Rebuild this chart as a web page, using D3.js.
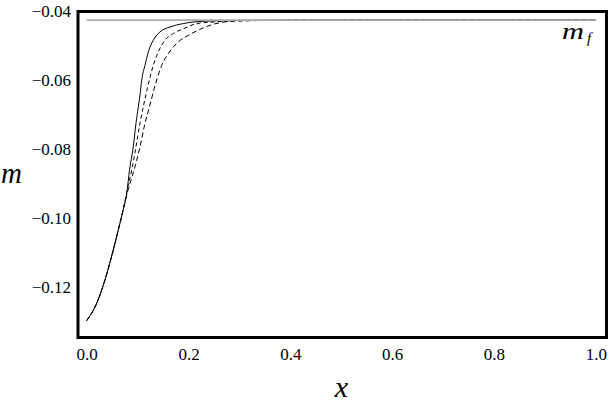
<!DOCTYPE html>
<html><head><meta charset="utf-8"><script src="https://cdn.jsdelivr.net/npm/d3@7"></script></head>
<body style="margin:0">
<svg id="chart" width="609" height="403" font-family="Liberation Serif"></svg>
<script>
// ---- data ----
const xTicks = [0.0, 0.2, 0.4, 0.6, 0.8, 1.0];
const yTicks = [-0.12, -0.10, -0.08, -0.06, -0.04];
const mFinal = -0.0425;

const solidX = [0, 0.0196, 0.0359, 0.0522, 0.0621, 0.0719, 0.0786, 0.0841, 0.0915, 0.0968, 0.1014, 0.1047, 0.108, 0.1145, 0.121, 0.1308, 0.144, 0.1636, 0.1897, 0.2127, 0.2554, 0.34, 0.5, 1.0];
const solidM = [-0.1296, -0.1246, -0.1178, -0.1091, -0.1033, -0.0973, -0.0927, -0.086, -0.0792, -0.0724, -0.0676, -0.0642, -0.0599, -0.0556, -0.0517, -0.0483, -0.0459, -0.0445, -0.0435, -0.043, -0.0427, -0.04255, -0.0425, -0.0425];

const dash1X = [0, 0.0196, 0.0359, 0.0522, 0.0621, 0.0719, 0.0798, 0.0884, 0.0968, 0.1047, 0.1112, 0.121, 0.1308, 0.1406, 0.1538, 0.1701, 0.1931, 0.2161, 0.252, 0.301, 0.36, 0.5, 1.0];
const dash1M = [-0.1296, -0.1246, -0.1178, -0.1091, -0.1033, -0.0973, -0.0915, -0.086, -0.0792, -0.0724, -0.0676, -0.0611, -0.0556, -0.0517, -0.0483, -0.0464, -0.0448, -0.0435, -0.043, -0.0427, -0.0426, -0.0425, -0.0425];

const dash2X = [0, 0.0196, 0.0359, 0.0522, 0.0621, 0.0719, 0.0817, 0.0929, 0.1047, 0.1145, 0.1233, 0.1350, 0.1473, 0.1603, 0.1799, 0.1996, 0.2192, 0.2422, 0.2874, 0.34, 0.42, 0.55, 1.0];
const dash2M = [-0.1296, -0.1246, -0.1178, -0.1091, -0.1033, -0.0973, -0.0915, -0.086, -0.0792, -0.0724, -0.0676, -0.0611, -0.0556, -0.0522, -0.0488, -0.0469, -0.0454, -0.044, -0.0428, -0.0426, -0.0425, -0.0425, -0.0425];

// ---- layout ----
const svg = d3.select("#chart");
const plotLeft = 78, plotRight = 606.5, plotTop = 11.5, plotBottom = 337.5;

const x = d3.scaleLinear().domain([-0.0171, 1.021]).range([plotLeft, plotRight]);
const y = d3.scaleLinear().domain([-0.1345, -0.0400]).range([plotBottom, plotTop]);

const fmt = v => (v < 0 ? "\u2212" : "") + Math.abs(v).toFixed(2);

// curves
const line = d3.line().x(d => x(d[0])).y(d => y(d[1])).curve(d3.curveMonotoneX);
const series = [
  { xs: solidX, ms: solidM, dash: null },
  { xs: dash1X, ms: dash1M, dash: "4,3" },
  { xs: dash2X, ms: dash2M, dash: "5,3" }
];
series.forEach(s => {
  const pts = s.xs.map((v, i) => [v, s.ms[i]]);
  svg.append("path")
    .datum(pts)
    .attr("d", line)
    .attr("fill", "none")
    .attr("stroke", "#000")
    .attr("stroke-width", 1)
    .attr("stroke-dasharray", s.dash);
});

// final value line
svg.append("line")
  .attr("x1", x(0)).attr("x2", x(1))
  .attr("y1", y(mFinal)).attr("y2", y(mFinal))
  .attr("stroke", "#aaaaaa").attr("stroke-width", 1.6);

// frame
svg.append("rect")
  .attr("x", plotLeft).attr("y", plotTop)
  .attr("width", plotRight - plotLeft).attr("height", plotBottom - plotTop)
  .attr("fill", "none").attr("stroke", "#000").attr("stroke-width", 3);

// y axis labels
const yAxis = d3.axisLeft(y).tickValues(yTicks).tickSize(0).tickPadding(7).tickFormat(fmt);
const gy = svg.append("g").attr("transform", `translate(${plotLeft},0)`).call(yAxis);
gy.attr("font-family", null).attr("font-size", null);
gy.select(".domain").remove();
gy.selectAll("text").attr("fill", "#000").attr("font-family", "Liberation Serif").attr("font-size", 17);

// x axis labels
const xAxis = d3.axisBottom(x).tickValues(xTicks).tickSize(0).tickPadding(10).tickFormat(d3.format(".1f"));
const gx = svg.append("g").attr("transform", `translate(0,${plotBottom})`).call(xAxis);
gx.attr("font-family", null).attr("font-size", null);
gx.select(".domain").remove();
gx.selectAll("text").attr("fill", "#000").attr("font-family", "Liberation Serif").attr("font-size", 17);

// m_f label
svg.append("text").attr("x", 562).attr("y", 39).attr("font-family", "Liberation Serif")
  .attr("font-style", "italic").attr("font-size", 23).attr("textLength", 22).attr("lengthAdjust", "spacingAndGlyphs").text("m");
svg.append("text").attr("x", 587).attr("y", 43).attr("font-family", "Liberation Serif")
  .attr("font-style", "italic").attr("font-size", 15).text("f");

// axis titles
svg.append("text").attr("x", 1).attr("y", 183).attr("font-family", "Liberation Serif")
  .attr("font-style", "italic").attr("font-size", 29).text("m");
svg.append("text").attr("x", 341.5).attr("y", 397).attr("text-anchor", "middle").attr("font-family", "Liberation Serif")
  .attr("font-style", "italic").attr("font-size", 30).text("x");
</script>
</body>
</html>
